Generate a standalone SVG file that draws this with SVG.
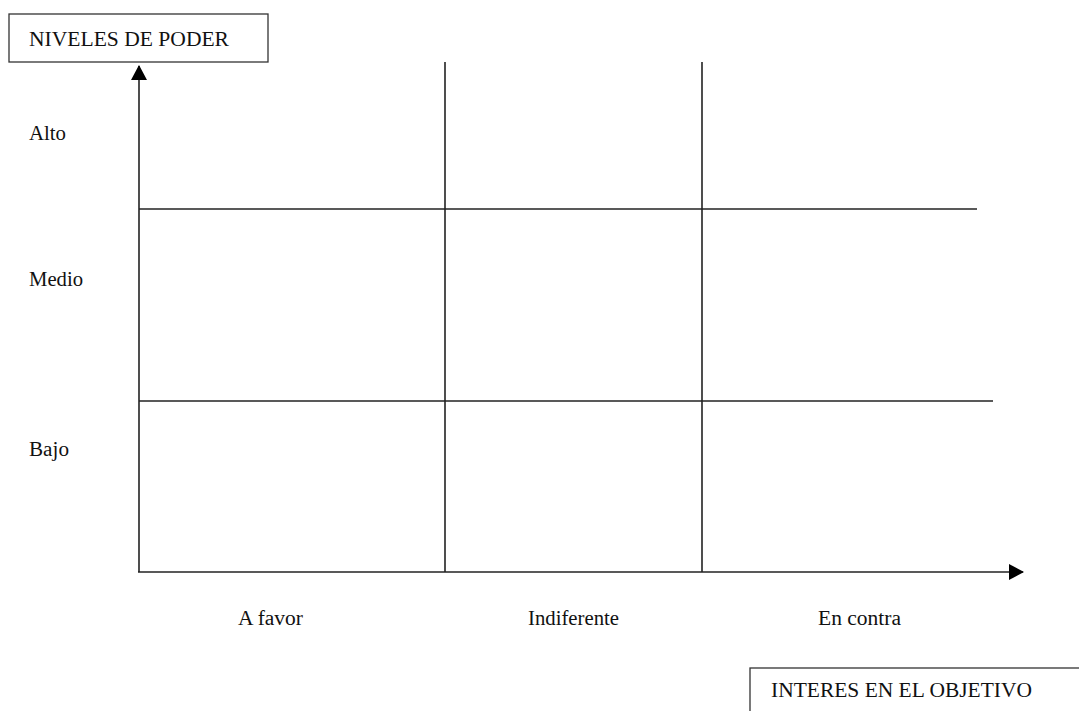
<svg xmlns="http://www.w3.org/2000/svg" width="1079" height="711" viewBox="0 0 1079 711">
<style>
.t{font-family:"Liberation Serif","Times New Roman",serif;font-size:20px;fill:#111}
.ln{stroke:#222;stroke-width:1.6;fill:none}
.box{stroke:#333;stroke-width:1.3;fill:#fff}
</style>
<defs>
<marker id="ahv" viewBox="0 0 15 16" refX="14" refY="8" markerWidth="15" markerHeight="16" markerUnits="userSpaceOnUse" orient="auto">
<path d="M0,0 L15,8 L0,16 Z" fill="#000"/>
</marker>
</defs>
<rect width="1079" height="711" fill="#fff"/>
<g id="connectors">
<line class="ln" x1="139" y1="572" x2="139" y2="66" marker-end="url(#ahv)"/>
<line class="ln" x1="138" y1="572" x2="1023" y2="572" marker-end="url(#ahv)"/>
<line class="ln" x1="445" y1="62" x2="445" y2="572"/>
<line class="ln" x1="702" y1="62" x2="702" y2="572"/>
<line class="ln" x1="139" y1="209" x2="977" y2="209"/>
<line class="ln" x1="139" y1="401" x2="993" y2="401"/>
</g>
<g id="niveles">
<rect class="box" x="9" y="14" width="259" height="48"/>
<text class="t" x="29" y="45.5" textLength="200" lengthAdjust="spacingAndGlyphs">NIVELES DE PODER</text>
</g>
<g id="interes">
<rect class="box" x="750" y="668" width="340" height="60"/>
<text class="t" x="771" y="697" textLength="261" lengthAdjust="spacingAndGlyphs">INTERES EN EL OBJETIVO</text>
</g>
<g id="alto"><text class="t" x="29" y="140" textLength="37" lengthAdjust="spacingAndGlyphs">Alto</text></g>
<g id="medio"><text class="t" x="29" y="285.5" textLength="54" lengthAdjust="spacingAndGlyphs">Medio</text></g>
<g id="bajo"><text class="t" x="29" y="455.5" textLength="40" lengthAdjust="spacingAndGlyphs">Bajo</text></g>
<g id="afavor"><text class="t" x="238" y="625" textLength="65" lengthAdjust="spacingAndGlyphs">A favor</text></g>
<g id="indiferente"><text class="t" x="528" y="625" textLength="91" lengthAdjust="spacingAndGlyphs">Indiferente</text></g>
<g id="encontra"><text class="t" x="818" y="625" textLength="83" lengthAdjust="spacingAndGlyphs">En contra</text></g>
</svg>
